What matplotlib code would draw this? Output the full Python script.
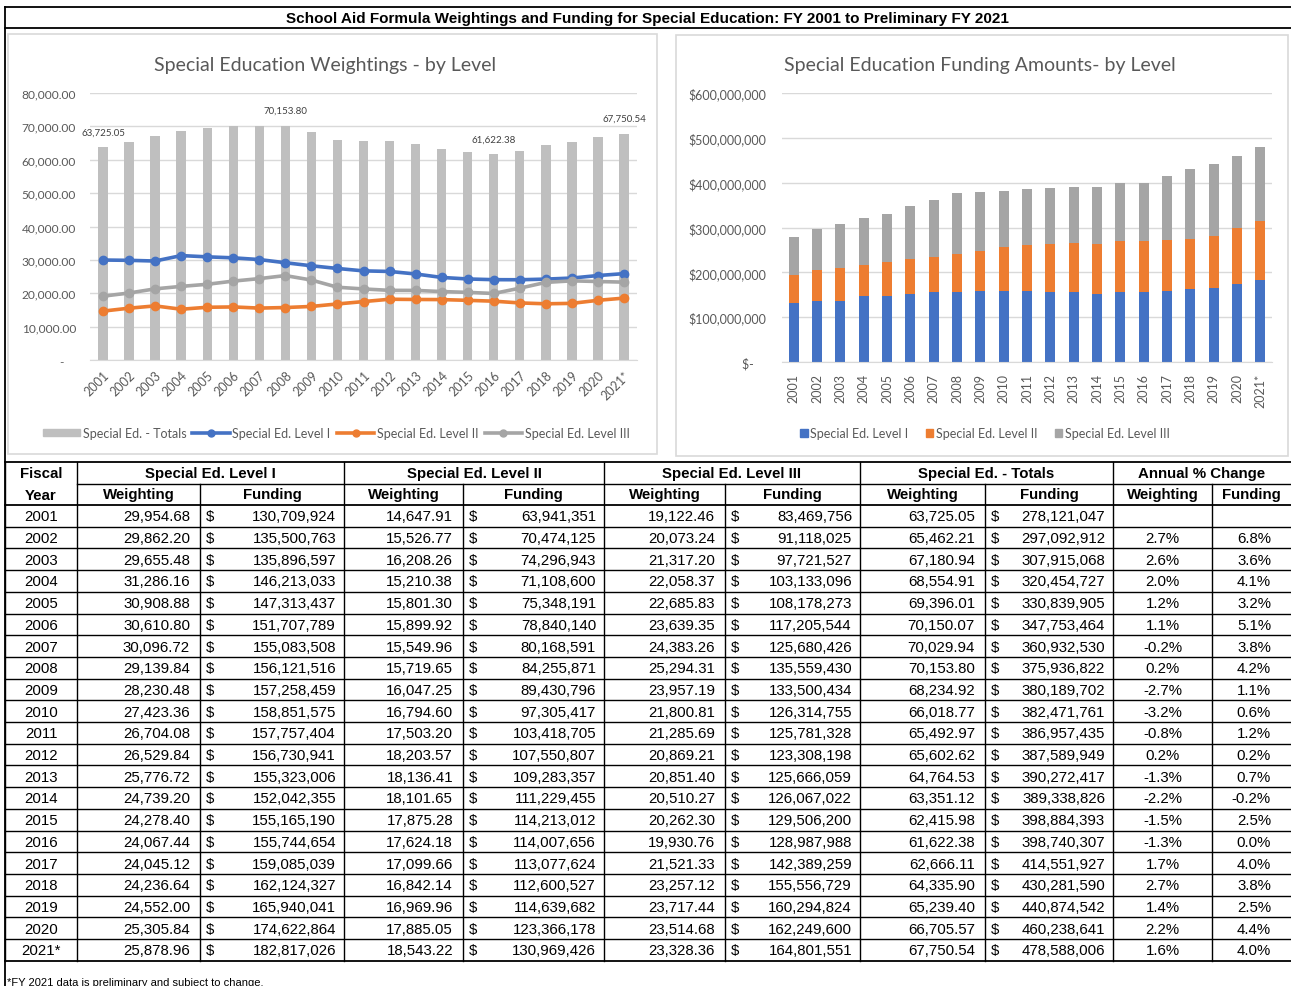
import matplotlib
matplotlib.use("Agg")
import matplotlib.pyplot as plt
from matplotlib import font_manager as fm
from matplotlib.patches import Rectangle, Patch
from matplotlib.lines import Line2D
import numpy as np

W, H = 1291, 987

years = ["2001", "2002", "2003", "2004", "2005", "2006", "2007", "2008", "2009", "2010",
         "2011", "2012", "2013", "2014", "2015", "2016", "2017", "2018", "2019", "2020", "2021*"]

l1_w = [29954.68, 29862.20, 29655.48, 31286.16, 30908.88, 30610.80, 30096.72, 29139.84, 28230.48, 27423.36,
        26704.08, 26529.84, 25776.72, 24739.20, 24278.40, 24067.44, 24045.12, 24236.64, 24552.00, 25305.84, 25878.96]
l1_f = [130709924, 135500763, 135896597, 146213033, 147313437, 151707789, 155083508, 156121516, 157258459, 158851575,
        157757404, 156730941, 155323006, 152042355, 155165190, 155744654, 159085039, 162124327, 165940041, 174622864, 182817026]
l2_w = [14647.91, 15526.77, 16208.26, 15210.38, 15801.30, 15899.92, 15549.96, 15719.65, 16047.25, 16794.60,
        17503.20, 18203.57, 18136.41, 18101.65, 17875.28, 17624.18, 17099.66, 16842.14, 16969.96, 17885.05, 18543.22]
l2_f = [63941351, 70474125, 74296943, 71108600, 75348191, 78840140, 80168591, 84255871, 89430796, 97305417,
        103418705, 107550807, 109283357, 111229455, 114213012, 114007656, 113077624, 112600527, 114639682, 123366178, 130969426]
l3_w = [19122.46, 20073.24, 21317.20, 22058.37, 22685.83, 23639.35, 24383.26, 25294.31, 23957.19, 21800.81,
        21285.69, 20869.21, 20851.40, 20510.27, 20262.30, 19930.76, 21521.33, 23257.12, 23717.44, 23514.68, 23328.36]
l3_f = [83469756, 91118025, 97721527, 103133096, 108178273, 117205544, 125680426, 135559430, 133500434, 126314755,
        125781328, 123308198, 125666059, 126067022, 129506200, 128987988, 142389259, 155556729, 160294824, 162249600, 164801551]
tot_w = [63725.05, 65462.21, 67180.94, 68554.91, 69396.01, 70150.07, 70029.94, 70153.80, 68234.92, 66018.77,
         65492.97, 65602.62, 64764.53, 63351.12, 62415.98, 61622.38, 62666.11, 64335.90, 65239.40, 66705.57, 67750.54]
tot_f = [278121047, 297092912, 307915068, 320454727, 330839905, 347753464, 360932530, 375936822, 380189702, 382471761,
         386957435, 387589949, 390272417, 389338826, 398884393, 398740307, 414551927, 430281590, 440874542, 460238641, 478588006]
pct_w = ["", "2.7%", "2.6%", "2.0%", "1.2%", "1.1%", "-0.2%", "0.2%", "-2.7%", "-3.2%",
         "-0.8%", "0.2%", "-1.3%", "-2.2%", "-1.5%", "-1.3%", "1.7%", "2.7%", "1.4%", "2.2%", "1.6%"]
pct_f = ["", "6.8%", "3.6%", "4.1%", "3.2%", "5.1%", "3.8%", "4.2%", "1.1%", "0.6%",
         "1.2%", "0.2%", "0.7%", "-0.2%", "2.5%", "0.0%", "4.0%", "3.8%", "2.5%", "4.4%", "4.0%"]
labelled = [0, 7, 15, 20]

BLUE, ORANGE, GRAY, LIGHT = "#4472C4", "#ED7D31", "#A5A5A5", "#BFBFBF"
TXT, GRID = "#595959", "#D9D9D9"

names = {f.name for f in fm.fontManager.ttflist}
CHART_FONT = "Lato" if "Lato" in names else "DejaVu Sans"
if "Liberation Sans Narrow" in names:
    TAB_FONT, TAB_SIZE = "Liberation Sans Narrow", 12.5
else:
    TAB_FONT, TAB_SIZE = "Liberation Sans", 10.8
plt.rcParams["font.family"] = [CHART_FONT, "DejaVu Sans"]

fig = plt.figure(figsize=(W / 100, H / 100), dpi=100)


def pix_axes(x0, y0, x1, y1):
    return fig.add_axes([x0 / W, 1 - y1 / H, (x1 - x0) / W, (y1 - y0) / H])


# background layer in pixel coords: boxes, title, table
bg = fig.add_axes([0, 0, 1, 1])
bg.set_xlim(0, W)
bg.set_ylim(H, 0)
bg.axis("off")

bg.plot([5, W], [7.5, 7.5], color="black", lw=1.3)
bg.plot([5, W], [29, 29], color="black", lw=1.3)
bg.plot([5, 5], [7.5, H], color="black", lw=1.3)
bg.text(647, 18.5, "School Aid Formula Weightings and Funding for Special Education: FY 2001 to Preliminary FY 2021",
        ha="center", va="center", fontsize=11, fontweight="bold", family=["Liberation Sans", "DejaVu Sans"])
bg.add_patch(Rectangle((8, 35), 649, 420, fill=False, ec=GRID, lw=1.2))
bg.add_patch(Rectangle((676, 36), 612, 421, fill=False, ec=GRID, lw=1.2))

# table
cols = [5, 77, 200, 344, 463, 604, 725, 860, 985, 1113, 1212, W]
top, h1, h2, rh = 463, 485, 506, 21.7
bottom = h2 + rh * len(years)
tk = dict(family=[TAB_FONT, "DejaVu Sans"], fontsize=TAB_SIZE, va="center")
LW = 1.0

bg.plot([5, W], [top, top], color="black", lw=1.3)
bg.plot([77, W], [h1, h1], color="black", lw=LW)
for k in range(len(years) + 1):
    y = h2 + rh * k
    bg.plot([5, W], [y, y], color="black", lw=1.3 if k in (0, len(years)) else LW)
for x in [5, 77, 344, 604, 860, 1113]:
    bg.plot([x, x], [top, bottom], color="black", lw=LW)
for x in [200, 463, 725, 985, 1212]:
    bg.plot([x, x], [h1, bottom], color="black", lw=LW)

groups = ["Special Ed. Level I", "Special Ed. Level II", "Special Ed. Level III", "Special Ed. - Totals", "Annual % Change"]
for g, name in enumerate(groups):
    bg.text((cols[1 + 2 * g] + cols[3 + 2 * g]) / 2, (top + h1) / 2, name, ha="center", fontweight="bold", **tk)
    bg.text((cols[1 + 2 * g] + cols[2 + 2 * g]) / 2, (h1 + h2) / 2, "Weighting", ha="center", fontweight="bold", **tk)
    bg.text((cols[2 + 2 * g] + cols[3 + 2 * g]) / 2, (h1 + h2) / 2, "Funding", ha="center", fontweight="bold", **tk)
bg.text(41, (top + h1) / 2, "Fiscal", ha="center", fontweight="bold", **tk)
bg.text(41, (h1 + h2) / 2, "Year", ha="center", fontweight="bold", **tk)

wcols = [l1_w, l2_w, l3_w, tot_w]
fcols = [l1_f, l2_f, l3_f, tot_f]
for i, yr in enumerate(years):
    y = h2 + rh * (i + 0.5) + 0.5
    bg.text(41, y, yr, ha="center", **tk)
    for g in range(4):
        bg.text(cols[2 + 2 * g] - 10, y, f"{wcols[g][i]:,.2f}", ha="right", **tk)
        bg.text(cols[2 + 2 * g] + 6, y, "$", ha="left", **tk)
        bg.text(cols[3 + 2 * g] - 8, y, f"{fcols[g][i]:,.0f}", ha="right", **tk)
    bg.text((cols[9] + cols[10]) / 2, y, pct_w[i], ha="center", **tk)
    bg.text(cols[11] - 20, y, pct_f[i], ha="right", **tk)

bg.text(7, 983, "*FY 2021 data is preliminary and subject to change.", ha="left", va="center",
        fontsize=8, family=["Liberation Sans", "DejaVu Sans"])

x = np.arange(len(years))

# left chart: weightings
ax1 = pix_axes(90, 94, 637, 361)
ax1.set_facecolor("none")
ax1.bar(x, tot_w, width=0.36, color=LIGHT, zorder=2)
ax1.plot(x, l1_w, color=BLUE, lw=2.6, marker="o", ms=6, zorder=3)
ax1.plot(x, l2_w, color=ORANGE, lw=2.6, marker="o", ms=6, zorder=3)
ax1.plot(x, l3_w, color=GRAY, lw=2.6, marker="o", ms=6, zorder=3)
for i in labelled:
    ax1.annotate(f"{tot_w[i]:,.2f}", (x[i], tot_w[i]), xytext=(0, 8), textcoords="offset points",
                 ha="center", va="bottom", fontsize=7, color="#404040")
ax1.set_xlim(-0.5, len(years) - 0.5)
ax1.set_ylim(0, 80000)
ax1.set_yticks(np.arange(0, 80001, 10000))
ax1.set_yticklabels(["-    "] + [f"{v:,.2f}" for v in np.arange(10000, 80001, 10000)])
ax1.set_xticks(x)
ax1.set_xticklabels(years, rotation=45, ha="right", rotation_mode="anchor")
ax1.grid(axis="y", color=GRID, lw=1, zorder=0)
ax1.set_axisbelow(True)
for s in ["top", "right", "left"]:
    ax1.spines[s].set_visible(False)
ax1.spines["bottom"].set_color(GRID)
ax1.tick_params(length=0, colors=TXT)
ax1.tick_params(axis="y", pad=10, labelsize=8.6)
ax1.tick_params(axis="x", pad=6, labelsize=9)
fig.text(325 / W, 1 - 66 / H, "Special Education Weightings - by Level", ha="center", va="center",
         fontsize=14, color=TXT)
h_left = [Patch(color=LIGHT, label="Special Ed. - Totals"),
          Line2D([], [], color=BLUE, lw=2.6, marker="o", ms=5, label="Special Ed. Level I"),
          Line2D([], [], color=ORANGE, lw=2.6, marker="o", ms=5, label="Special Ed. Level II"),
          Line2D([], [], color=GRAY, lw=2.6, marker="o", ms=5, label="Special Ed. Level III")]
fig.legend(handles=h_left, loc="center", bbox_to_anchor=(336 / W, 1 - 434 / H), ncol=4, frameon=False,
           fontsize=9, labelcolor=TXT, handlelength=3.0, handletextpad=0.2, columnspacing=0.5,
           handleheight=0.5)

# right chart: funding, stacked
ax2 = pix_axes(782, 94, 1272, 363)
ax2.set_facecolor("none")
f1 = np.array(l1_f)
f2 = np.array(l2_f)
f3 = np.array(l3_f)
ax2.bar(x, f1, width=0.43, color=BLUE, zorder=2)
ax2.bar(x, f2, width=0.43, bottom=f1, color=ORANGE, zorder=2)
ax2.bar(x, f3, width=0.43, bottom=f1 + f2, color=GRAY, zorder=2)
ax2.set_xlim(-0.5, len(years) - 0.5)
ax2.set_ylim(0, 600000000)
ax2.set_yticks(np.arange(0, 600000001, 100000000))
ax2.set_yticklabels(["$-    "] + [f"${v:,.0f}" for v in np.arange(100000000, 600000001, 100000000)])
ax2.set_xticks(x)
ax2.set_xticklabels(years, rotation=90)
ax2.grid(axis="y", color=GRID, lw=1, zorder=0)
ax2.set_axisbelow(True)
for s in ["top", "right", "left"]:
    ax2.spines[s].set_visible(False)
ax2.spines["bottom"].set_color(GRID)
ax2.tick_params(length=0, labelsize=9, colors=TXT)
ax2.tick_params(axis="y", pad=11)
ax2.tick_params(axis="x", pad=8)
fig.text(980 / W, 1 - 66 / H, "Special Education Funding Amounts- by Level", ha="center", va="center",
         fontsize=14, color=TXT)
h_right = [Patch(color=BLUE, label="Special Ed. Level I"),
           Patch(color=ORANGE, label="Special Ed. Level II"),
           Patch(color=GRAY, label="Special Ed. Level III")]
fig.legend(handles=h_right, loc="center", bbox_to_anchor=(985 / W, 1 - 434 / H), ncol=3, frameon=False,
           fontsize=9, labelcolor=TXT, handlelength=0.6, handleheight=0.6, handletextpad=0.2,
           columnspacing=1.4)

fig.savefig("out.png", dpi=100)
